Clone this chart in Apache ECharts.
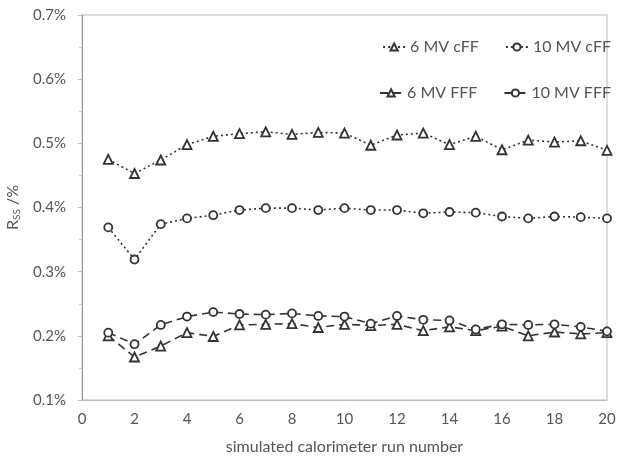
<!DOCTYPE html>
<html>
<head>
<meta charset="utf-8">
<script src="https://cdn.jsdelivr.net/npm/echarts@6/dist/echarts.min.js"></script>
<style>html,body{margin:0;padding:0;background:#fff;}#c{width:628px;height:459px;}</style>
</head>
<body>
<div id="c"></div>
<script>
const runs = [1,2,3,4,5,6,7,8,9,10,11,12,13,14,15,16,17,18,19,20];
const mv6cFF  = [0.475,0.453,0.474,0.498,0.511,0.515,0.518,0.514,0.517,0.516,0.497,0.513,0.516,0.498,0.511,0.490,0.505,0.502,0.504,0.489];
const mv10cFF = [0.369,0.319,0.374,0.383,0.388,0.396,0.399,0.399,0.396,0.399,0.396,0.396,0.391,0.393,0.392,0.386,0.383,0.386,0.385,0.383];
const mv6FFF  = [0.200,0.167,0.184,0.205,0.199,0.217,0.218,0.219,0.213,0.218,0.216,0.218,0.208,0.214,0.208,0.215,0.200,0.206,0.203,0.205];
const mv10FFF = [0.205,0.187,0.217,0.230,0.237,0.234,0.233,0.235,0.231,0.230,0.219,0.231,0.225,0.224,0.210,0.218,0.217,0.218,0.214,0.207];
const seriesNames = ['6 MV cFF','10 MV cFF','6 MV FFF','10 MV FFF'];

const chart = echarts.init(document.getElementById('c'));
const font = 'Lato, "Open Sans", sans-serif';
const txt = '#555';
function mk(name, vals, symbol, dash) {
  return {
    name: name, type: 'line',
    data: runs.map((r,i)=>[r, vals[i]]),
    symbol: symbol, symbolSize: symbol === 'triangle' ? 9 : 8,
    showSymbol: true,
    lineStyle: {color:'#333', width:1.6, type: dash},
    itemStyle: {color:'#fff', borderColor:'#333', borderWidth:1.8},
    z: 3
  };
}
const legTxt = {color:txt, fontSize:16, fontFamily:font};
chart.setOption({
  animation:false,
  backgroundColor:'#fff',
  textStyle:{fontFamily:font},
  grid:{left:82, right:21, top:15, bottom:59, containLabel:false, outerBoundsMode:'none', show:true, borderColor:'#bbb', borderWidth:1},
  legend:[
    {data:[seriesNames[0],seriesNames[1]], top:34, right:12, itemGap:26, itemWidth:22, itemHeight:9, textStyle:legTxt},
    {data:[seriesNames[2],seriesNames[3]], top:80, right:12, itemGap:26, itemWidth:22, itemHeight:9, textStyle:legTxt}
  ],
  xAxis:{
    type:'value', min:0, max:20, interval:2,
    name:'simulated calorimeter run number', nameLocation:'middle', nameGap:39,
    nameTextStyle:{color:txt, fontSize:16, fontFamily:font},
    axisLine:{lineStyle:{color:'#bbb'}},
    axisTick:{show:false},
    axisLabel:{color:txt, fontSize:15, margin:12, fontFamily:font},
    splitLine:{show:false}
  },
  yAxis:{
    type:'value', min:0.1, max:0.7, interval:0.1,
    name:'{r|R}{s|SS}{r| /%}', nameLocation:'middle', nameGap:60,
    nameTextStyle:{color:txt, rich:{r:{fontSize:16, color:txt, fontFamily:font}, s:{fontSize:10, color:txt, verticalAlign:'bottom', padding:[8,0,0,0], fontFamily:font}}},
    axisLine:{show:true, lineStyle:{color:'#999'}},
    axisTick:{show:true, length:4, lineStyle:{color:'#bbb'}},
    minorTick:{show:true, splitNumber:2, length:3, lineStyle:{color:'#ccc'}},
    axisLabel:{color:txt, fontSize:15, margin:16, fontFamily:font, formatter:v=>v.toFixed(1)+'%'},
    splitLine:{show:false}
  },
  series:[
    mk(seriesNames[0], mv6cFF, 'triangle', [2,3]),
    mk(seriesNames[1], mv10cFF, 'circle', [2,3]),
    mk(seriesNames[2], mv6FFF, 'triangle', [8,5]),
    mk(seriesNames[3], mv10FFF, 'circle', [8,5])
  ]
});
</script>
</body>
</html>
